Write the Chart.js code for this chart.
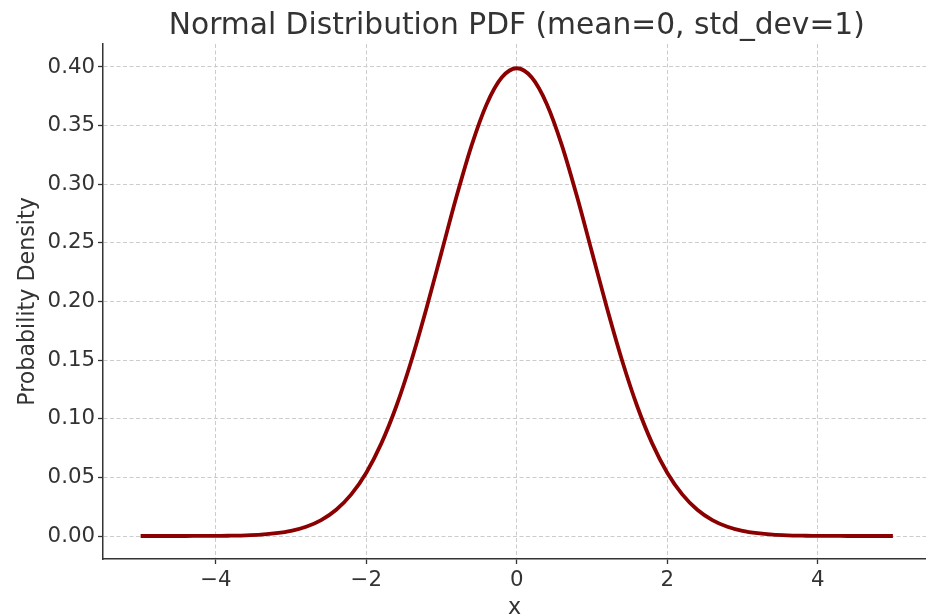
<!DOCTYPE html>
<html>
<head>
<meta charset="utf-8">
<script src="https://cdn.jsdelivr.net/npm/chart.js@4/dist/chart.umd.min.js"></script>
<style>
  html, body { margin: 0; padding: 0; background: #fff; }
  canvas { display: block; }
</style>
</head>
<body>
<canvas id="c" width="926" height="616"></canvas>
<script>
// x positions of sampled points
const xValues = [-5.0,-4.8,-4.6,-4.4,-4.2,-4.0,-3.8,-3.6,-3.4,-3.2,-3.0,-2.8,-2.6,-2.4,-2.2,-2.0,-1.8,-1.6,-1.4,-1.2,-1.0,-0.8,-0.6,-0.4,-0.2,
  0.0,0.2,0.4,0.6,0.8,1.0,1.2,1.4,1.6,1.8,2.0,2.2,2.4,2.6,2.8,3.0,3.2,3.4,3.6,3.8,4.0,4.2,4.4,4.6,4.8,5.0];
// probability density
const densityValues = [0.0000,0.0000,0.0000,0.0000,0.0001,0.0001,0.0003,0.0006,0.0012,0.0024,0.0044,0.0079,0.0136,0.0224,0.0355,0.0540,0.0790,0.1109,0.1497,0.1942,0.2420,0.2897,0.3332,0.3683,0.3910,
  0.3989,0.3910,0.3683,0.3332,0.2897,0.2420,0.1942,0.1497,0.1109,0.0790,0.0540,0.0355,0.0224,0.0136,0.0079,0.0044,0.0024,0.0012,0.0006,0.0003,0.0001,0.0001,0.0000,0.0000,0.0000,0.0000];
const xTicks = [-4, -2, 0, 2, 4];
const yTicks = [0.00, 0.05, 0.10, 0.15, 0.20, 0.25, 0.30, 0.35, 0.40];

const titleText = 'Normal Distribution PDF (mean=0, std_dev=1)';
const xLabel = 'x';
const yLabel = 'Probability Density';

const FONT = "'DejaVu Sans', sans-serif";
const TEXT = '#333333';
const GRID = '#cccccc';

const points = xValues.map((x, i) => ({ x: x, y: densityValues[i] }));

// Title centred over the axes area (as in the reference)
const axesTitle = {
  id: 'axesTitle',
  afterDraw(chart) {
    const ctx = chart.ctx;
    const xs = chart.scales.x;
    const cx = xs.getPixelForValue(0);
    ctx.save();
    ctx.font = "29.7px 'DejaVu Sans', sans-serif";
    ctx.fillStyle = TEXT;
    ctx.textAlign = 'center';
    ctx.textBaseline = 'alphabetic';
    ctx.fillText(titleText, cx, 34);
    ctx.restore();
  }
};

new Chart(document.getElementById('c'), {
  type: 'line',
  data: {
    datasets: [{
      data: points,
      borderColor: '#8b0000',
      borderWidth: 3.8,
      pointRadius: 0,
      fill: false,
      cubicInterpolationMode: 'monotone'
    }]
  },
  options: {
    responsive: false,
    animation: false,
    events: [],
    layout: { padding: { left: 0, right: 0, top: 44, bottom: 0 } },
    plugins: {
      legend: { display: false },
      tooltip: { enabled: false },
      title: { display: false }
    },
    scales: {
      x: {
        type: 'linear',
        min: -5.5,
        max: 5.44,
        afterBuildTicks: (scale) => { scale.ticks = xTicks.map(v => ({ value: v })); },
        afterFit: (scale) => { scale.height = 57; },
        ticks: {
          color: TEXT,
          font: { family: FONT, size: 21.3 },
          padding: 4,
          maxRotation: 0,
          autoSkip: false,
          includeBounds: false,
          callback: (v) => (v < 0 ? '\u2212' + Math.abs(v) : String(v))
        },
        grid: {
          color: GRID,
          lineWidth: 1,
          drawTicks: true,
          tickLength: 5,
          tickColor: TEXT,
          tickWidth: 1.3
        },
        border: { display: true, color: TEXT, width: 1.5, dash: [4, 2.5] },
        title: {
          display: true,
          text: xLabel,
          color: TEXT,
          font: { family: FONT, size: 22.2, lineHeight: 1.0 },
          padding: { top: 0, bottom: -3.5 }
        }
      },
      y: {
        type: 'linear',
        min: -0.0196,
        max: 0.4196,
        afterBuildTicks: (scale) => { scale.ticks = yTicks.map(v => ({ value: v })); },
        afterFit: (scale) => { scale.width = 103; },
        ticks: {
          color: TEXT,
          font: { family: FONT, size: 21.3 },
          padding: 3,
          autoSkip: false,
          includeBounds: false,
          callback: (v) => Number(v).toFixed(2)
        },
        grid: {
          color: GRID,
          lineWidth: 1,
          drawTicks: true,
          tickLength: 5,
          tickColor: TEXT,
          tickWidth: 1.3
        },
        border: { display: true, color: TEXT, width: 1.5, dash: [4, 2.5] },
        title: {
          display: true,
          text: yLabel,
          color: TEXT,
          font: { family: FONT, size: 22.2, lineHeight: 1.2 },
          padding: { top: 14.5, bottom: 0 }
        }
      }
    }
  },
  plugins: [axesTitle]
});
</script>
</body>
</html>
